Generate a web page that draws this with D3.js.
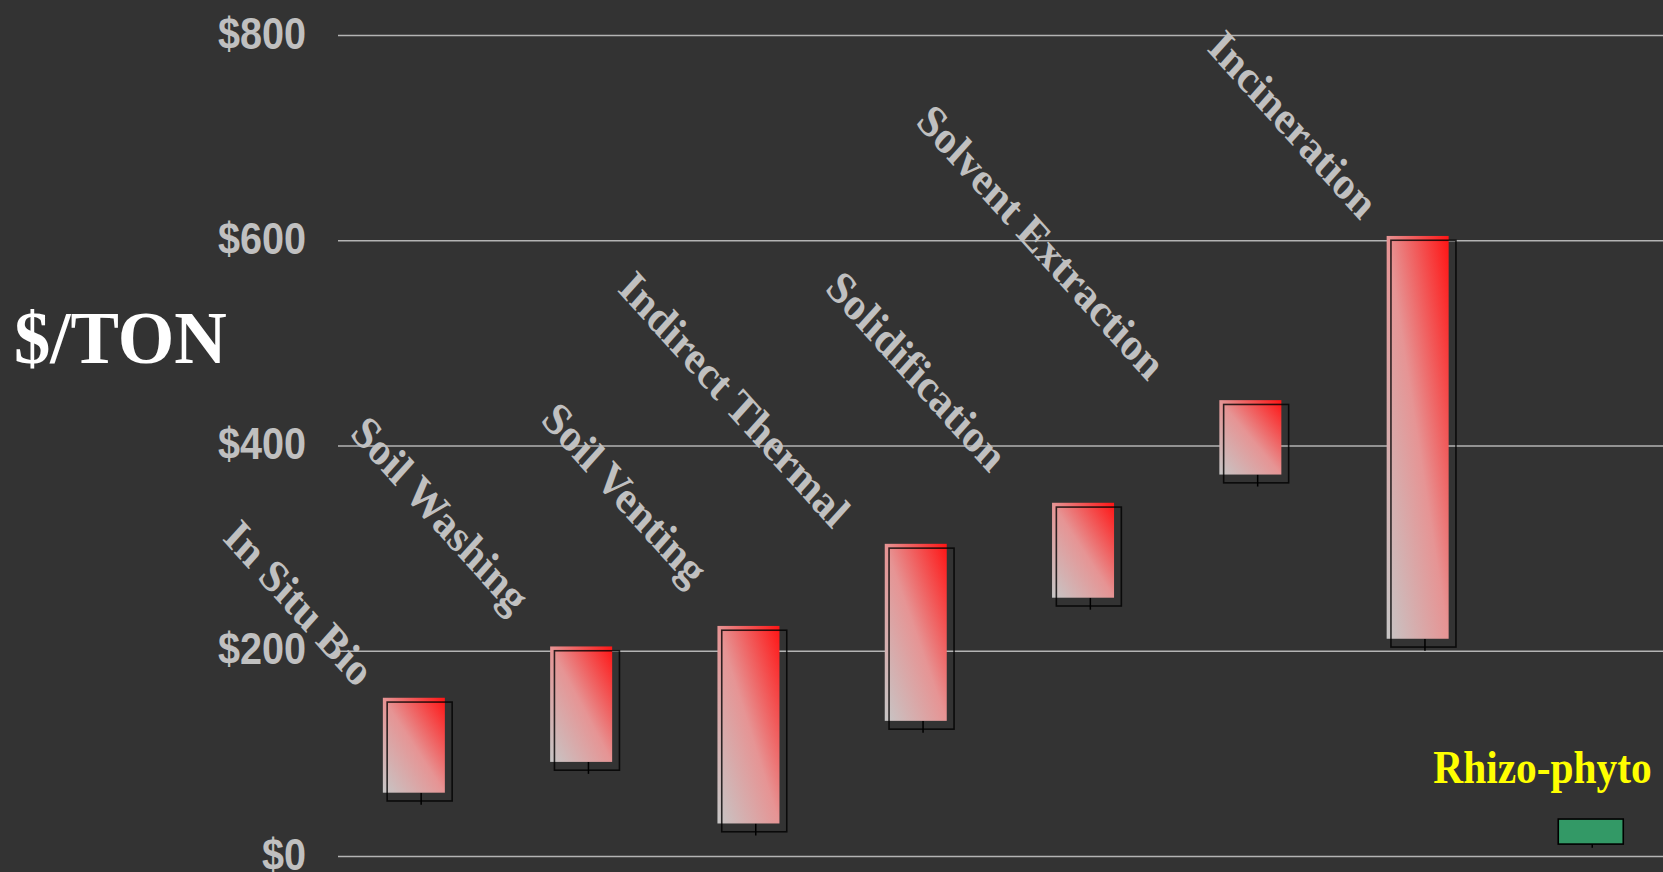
<!DOCTYPE html>
<html>
<head>
<meta charset="utf-8">
<script src="https://cdn.jsdelivr.net/npm/d3@7"></script>
<style>
  html, body { margin: 0; padding: 0; background: #333333; }
  svg { display: block; }
</style>
</head>
<body>
<svg id="chart" width="1663" height="872"></svg>
<script>
// ---- Data ----
const categories = ["In Situ Bio", "Soil Washing", "Soil Venting", "Indirect Thermal",
                    "Solidification", "Solvent Extraction", "Incineration", "Rhizo-phyto"];
const lowCost  = [50, 80, 20, 120, 240, 360, 200, 8];
const highCost = [150, 200, 220, 300, 340, 440, 600, 36];
const yTicks = [0, 200, 400, 600, 800];
const yTickLabels = ["$0", "$200", "$400", "$600", "$800"];
const yAxisTitle = "$/TON";
const highlightCategory = "Rhizo-phyto";

// ---- Layout (pixel offsets of rotated labels from each bar's top centre) ----
const labelOffsets = [[-63, -13], [-75, -35], [-64, -42], [-89, -18], [-99, -33], [-108, -22], [-63, -19]];

const W = 1663, H = 872;
const svg = d3.select("#chart");
svg.append("rect").attr("width", W).attr("height", H).attr("fill", "#333333");

const x = d3.scaleBand().domain(categories).range([336, 1674.4]).padding(0);
const y = d3.scaleLinear().domain([0, 800]).range([856, 35]);
const cx = c => x(c) + x.bandwidth() / 2;

// gradient
const defs = svg.append("defs");
const grad = defs.append("linearGradient").attr("id", "barGrad")
  .attr("x1", 0).attr("y1", 1).attr("x2", 1).attr("y2", 0);
grad.append("stop").attr("offset", 0).attr("stop-color", "#c6c6c6");
grad.append("stop").attr("offset", 0.5).attr("stop-color", "#e69494");
grad.append("stop").attr("offset", 1).attr("stop-color", "#ff1414");

// gridlines
const yAxis = d3.axisLeft(y).tickValues(yTicks).tickSize(-(W - 338)).tickFormat((d, i) => yTickLabels[i]);
const gAxis = svg.append("g").attr("transform", "translate(338,0)").call(yAxis);
gAxis.select(".domain").remove();
gAxis.selectAll(".tick line").attr("stroke", "#b4b4b4").attr("stroke-width", 1.3);
gAxis.selectAll(".tick text")
  .attr("x", 0).attr("dy", null).attr("y", 0)
  .attr("fill", "#c0c0c0")
  .attr("font-family", "'Liberation Sans', Arial, sans-serif")
  .attr("font-weight", "bold")
  .attr("font-size", 44)
  .attr("text-anchor", "end")
  .attr("transform", "translate(-32,13) scale(0.9,1)");

// y axis title
svg.append("text").text(yAxisTitle)
  .attr("transform", "translate(14,363) scale(0.97,1)")
  .attr("fill", "#ffffff")
  .attr("font-family", "'Liberation Serif', 'Times New Roman', serif")
  .attr("font-weight", "bold")
  .attr("font-size", 75);

const data = categories.map((c, i) => ({ c, lo: lowCost[i], hi: highCost[i], i }));

const bars = svg.append("g").selectAll("g").data(data).join("g");

// wick
bars.append("line")
  .attr("x1", d => cx(d.c) + 1.5).attr("x2", d => cx(d.c) + 1.5)
  .attr("y1", d => y(d.lo) - 12).attr("y2", d => y(d.lo))
  .attr("stroke", "#000").attr("stroke-width", 1.5);

// gradient body (not for highlight)
bars.filter(d => d.c !== highlightCategory).append("rect")
  .attr("x", d => cx(d.c) - 36.8)
  .attr("y", d => y(d.hi) - 4.3)
  .attr("width", 62)
  .attr("height", d => (y(d.lo) - 12) - (y(d.hi) - 4.3))
  .attr("fill", "url(#barGrad)");

// outline box
bars.append("rect")
  .attr("x", d => cx(d.c) - 32.5)
  .attr("y", d => y(d.hi))
  .attr("width", 65)
  .attr("height", d => (y(d.lo) - 3.7) - y(d.hi))
  .attr("fill", d => d.c === highlightCategory ? "#339966" : "none")
  .attr("stroke", d => d.c === highlightCategory ? "#000" : "rgba(0,0,0,0.8)")
  .attr("stroke-width", 1.6);

// rotated category labels
svg.append("g").selectAll("text").data(data.filter(d => d.c !== highlightCategory)).join("text")
  .text(d => d.c)
  .attr("transform", d => {
    const o = labelOffsets[d.i];
    return `translate(${cx(d.c) + o[0]},${y(d.hi) + o[1]}) scale(0.9,1) rotate(45)`;
  })
  .attr("text-anchor", "end")
  .attr("fill", "#c0c0c0")
  .attr("font-family", "'Liberation Serif', 'Times New Roman', serif")
  .attr("font-weight", "bold")
  .attr("font-size", 46);

// highlighted label
svg.append("text").text(highlightCategory)
  .attr("transform", `translate(${cx(highlightCategory) + 61},783) scale(0.9,1)`)
  .attr("text-anchor", "end")
  .attr("fill", "#ffff00")
  .attr("font-family", "'Liberation Serif', 'Times New Roman', serif")
  .attr("font-weight", "bold")
  .attr("font-size", 46);
</script>
</body>
</html>
